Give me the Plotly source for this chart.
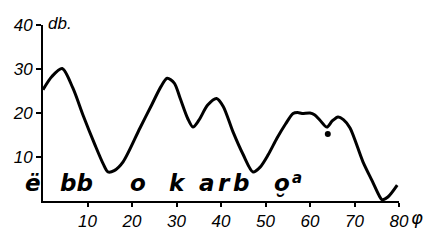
import plotly.graph_objects as go

# curve: angle phi (degrees) vs level (db)
phi = [0, 2, 4.3, 6.7, 9, 11.7, 13.5, 14.6, 16, 18, 21.8, 24.5, 26.5, 27.9, 29.5, 30.8, 32.5, 33.7,
       35, 37, 39, 40.5, 42.7, 45, 47.2, 48.8, 50.6, 52.6, 54.5, 56.2, 57.2, 58.2, 60, 61, 62.2, 63.8,
       65, 66.3, 67.5, 69, 71.9, 74, 75.5, 76.2, 77.5, 79.6]
db = [25.3, 28.3, 30.1, 25.7, 19.5, 12.7, 8.5, 6.6, 6.9, 8.9, 16.6, 22, 26, 27.9, 26.8, 23.4, 18.8, 16.8,
      18.3, 21.8, 23.3, 21.5, 15.7, 10.5, 6.6, 7.7, 10.5, 14.3, 17.5, 19.9, 20.1, 19.9, 20, 19.6, 18.4, 16.8,
      18.2, 19.1, 18.5, 16.6, 8.9, 4.5, 1.3, 0.3, 0.9, 3.6]

dot_phi = [64]
dot_db = [15.2]

letters = ["ë", "bb", "o", "k", "a", "r", "b", "o̮", "a"]
letter_phi = [0, 7.6, 21.3, 30.3, 36.9, 40.7, 44.6, 53.7, 57.0]
letter_shift = [-10, 0, 0, 0, 0, 0, 0, 0, 0]
letter_db = [4.0, 4.0, 4.0, 4.0, 4.0, 4.0, 4.0, 4.0, 5.2]
letter_size = [23, 23, 23, 23, 23, 23, 23, 23, 15]

x_ticks = [10, 20, 30, 40, 50, 60, 70, 80]
y_ticks = [10, 20, 30, 40]

fig = go.Figure()
fig.add_trace(go.Scatter(x=phi, y=db, mode="lines", line=dict(color="black", width=3, shape="spline", smoothing=0.8),
                         hoverinfo="skip", cliponaxis=False))
fig.add_trace(go.Scatter(x=dot_phi, y=dot_db, mode="markers", marker=dict(color="black", size=6),
                         hoverinfo="skip"))

for t, xx, yy, sh, sz in zip(letters, letter_phi, letter_db, letter_shift, letter_size):
    fig.add_annotation(x=xx, y=yy, text=t, showarrow=False, xanchor="center", yanchor="middle", xshift=sh,
                       font=dict(family="DejaVu Sans", size=sz, color="black", style="italic", weight="bold"))

tickfont = dict(family="Liberation Sans", size=17, color="black", style="italic")
fig.add_annotation(x=0, y=40, text="db.", showarrow=False, xanchor="left", yanchor="middle", xshift=3, yshift=2,
                   font=dict(family="Liberation Sans", size=17, color="black", style="italic"))
fig.add_annotation(x=80, y=0, text="φ", showarrow=False, xanchor="left",
                   yanchor="top", xshift=10, yshift=-4,
                   font=dict(family="DejaVu Sans", size=18, color="black", style="italic"))

fig.update_layout(
    width=428, height=240,
    margin=dict(l=43, r=29, t=25, b=39),
    plot_bgcolor="white", paper_bgcolor="white",
    showlegend=False,
    xaxis=dict(range=[0, 80], tickvals=x_ticks, ticktext=[str(v) for v in x_ticks], showgrid=False, zeroline=False,
               showline=True, linecolor="black", linewidth=2, ticks="outside", ticklen=4, tickwidth=2,
               tickcolor="black", tickfont=tickfont, automargin=False),
    yaxis=dict(range=[0, 40], tickvals=y_ticks, ticktext=[str(v) for v in y_ticks], showgrid=False, zeroline=False,
               showline=True, linecolor="black", linewidth=2, ticks="outside", ticklen=5, tickwidth=2,
               tickcolor="black", tickfont=tickfont, automargin=False),
)

fig.write_html("out.html", config={"displayModeBar": False},
               post_script="document.body.style.margin='0';document.body.style.padding='0';")
